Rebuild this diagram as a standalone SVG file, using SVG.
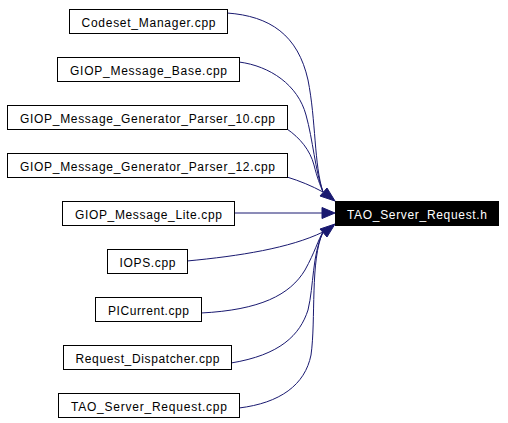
<svg xmlns="http://www.w3.org/2000/svg" width="508" height="423" viewBox="0 0 508 423">
<style>
.n rect{fill:#fff;stroke:#000;stroke-width:1}
.n text{font-family:"Liberation Sans",Arial,sans-serif;font-size:12px;text-anchor:middle;fill:#000}
#root rect{fill:#000;stroke:#000}
#root text{fill:#fff}
.e path{fill:none;stroke:#191970;stroke-width:1}
.e polygon{fill:#191970;stroke:#191970;stroke-width:1}
</style>
<rect width="508" height="423" fill="#fff"/>
<g class="e" id="edges">
<path d="M227,13 C270,16 298,35 308,80 C316,120 314,165 323,192"/>
<path d="M239,62 C270,66 298,85 306,115 C313,140 315,170 323,192"/>
<path d="M287,129 C300,138 310,150 314,165 C317,177 320,185 323,192"/>
<path d="M287,177 C300,181 312,186 323,192"/>
<path d="M234,213 L322,213"/>
<path d="M187,261 C240,256 290,248 323,232"/>
<path d="M201,313 C260,310 290,295 305,270 C315,252 318,240 323,232"/>
<path d="M231,363 C280,355 300,335 308,310 C314,285 312,255 323,232"/>
<path d="M239,408 C280,403 305,385 311,355 C316,320 310,260 323,232"/>
<polygon points="335,201 320,196 327,188"/>
<polygon points="335,213 322,207.5 322,218.5"/>
<polygon points="335,224 320,229 327,237"/>
</g>
<g class="n" id="n1"><rect x="69.5" y="9.5" width="158" height="24"/><text x="148.5" y="26.5" textLength="134" lengthAdjust="spacing">Codeset_Manager.cpp</text></g>
<g class="n" id="n2"><rect x="57.5" y="57.5" width="182" height="24"/><text x="148.5" y="74.5" textLength="157" lengthAdjust="spacing">GIOP_Message_Base.cpp</text></g>
<g class="n" id="n3"><rect x="7.5" y="105.5" width="280" height="24"/><text x="147.5" y="122.5" textLength="255" lengthAdjust="spacing">GIOP_Message_Generator_Parser_10.cpp</text></g>
<g class="n" id="n4"><rect x="7.5" y="153.5" width="280" height="24"/><text x="147.5" y="170.5" textLength="255" lengthAdjust="spacing">GIOP_Message_Generator_Parser_12.cpp</text></g>
<g class="n" id="n5"><rect x="62.5" y="201.5" width="172" height="24"/><text x="148.5" y="218.5" textLength="147" lengthAdjust="spacing">GIOP_Message_Lite.cpp</text></g>
<g class="n" id="n6"><rect x="107.5" y="249.5" width="80" height="24"/><text x="147.5" y="266.5" textLength="56" lengthAdjust="spacing">IOPS.cpp</text></g>
<g class="n" id="n7"><rect x="95.5" y="297.5" width="106" height="24"/><text x="148.5" y="314.5" textLength="81" lengthAdjust="spacing">PICurrent.cpp</text></g>
<g class="n" id="n8"><rect x="63.5" y="345.5" width="168" height="24"/><text x="147.5" y="362.5" textLength="144" lengthAdjust="spacing">Request_Dispatcher.cpp</text></g>
<g class="n" id="n9"><rect x="58.5" y="393.5" width="181" height="24"/><text x="149" y="410.5" textLength="156" lengthAdjust="spacing">TAO_Server_Request.cpp</text></g>
<g class="n" id="root"><rect x="335.5" y="201.5" width="163" height="24"/><text x="417" y="218.5" textLength="140" lengthAdjust="spacing">TAO_Server_Request.h</text></g>
</svg>
